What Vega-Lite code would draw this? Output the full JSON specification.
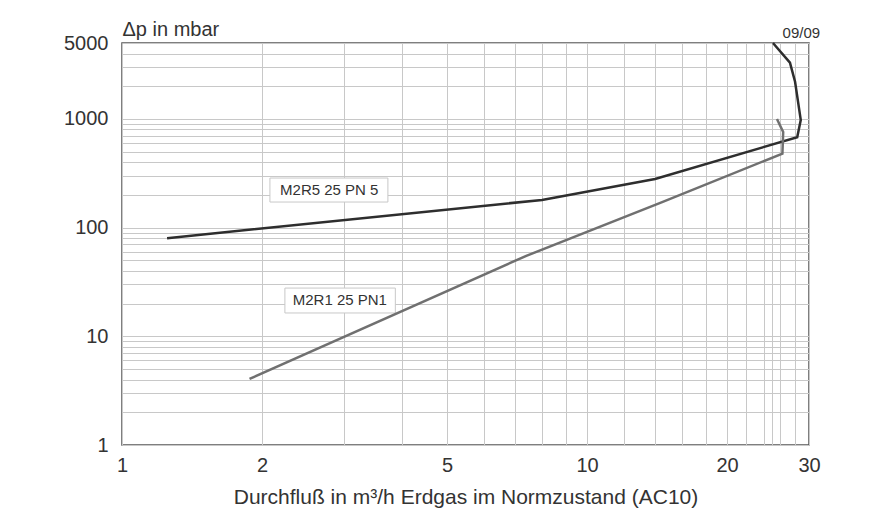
{
  "$schema": "https://vega.github.io/schema/vega-lite/v6.json",
  "autosize": {"type": "none"},
  "width": 687,
  "height": 402,
  "padding": {"left": 122, "top": 43, "right": 61, "bottom": 81},
  "background": "white",
  "config": {
    "font": "Liberation Sans",
    "view": {"stroke": "#555555", "strokeWidth": 1.5},
    "axis": {"domain": false, "ticks": false, "gridColor": "#c8c8c8", "gridWidth": 1, "labelColor": "#333333", "titleColor": "#333333", "labelFont": "Liberation Sans", "titleFont": "Liberation Sans", "titleFontWeight": "normal"}
  },
  "title": {"text": "09/09", "anchor": "end", "fontSize": 15, "fontWeight": "normal", "color": "#333333", "offset": 5, "dy": 27, "font": "Liberation Sans"},
  "datasets": {
    "curves": [
      {"series": "M2R5 25 PN 5", "i": 1, "q": 1.25, "dp": 80},
      {"series": "M2R5 25 PN 5", "i": 2, "q": 8.0, "dp": 180},
      {"series": "M2R5 25 PN 5", "i": 3, "q": 14.0, "dp": 280},
      {"series": "M2R5 25 PN 5", "i": 4, "q": 28.3, "dp": 680},
      {"series": "M2R5 25 PN 5", "i": 5, "q": 28.8, "dp": 980},
      {"series": "M2R5 25 PN 5", "i": 6, "q": 28.0, "dp": 2200},
      {"series": "M2R5 25 PN 5", "i": 7, "q": 27.3, "dp": 3300},
      {"series": "M2R5 25 PN 5", "i": 8, "q": 25.1, "dp": 5000},
      {"series": "M2R1 25 PN1", "i": 1, "q": 1.88, "dp": 4.05},
      {"series": "M2R1 25 PN1", "i": 2, "q": 7.4, "dp": 55},
      {"series": "M2R1 25 PN1", "i": 3, "q": 14.5, "dp": 172},
      {"series": "M2R1 25 PN1", "i": 4, "q": 26.3, "dp": 480},
      {"series": "M2R1 25 PN1", "i": 5, "q": 26.4, "dp": 760},
      {"series": "M2R1 25 PN1", "i": 6, "q": 25.6, "dp": 1000}
    ],
    "labels": [
      {"label": "M2R5 25 PN 5", "x1": 2.08, "x2": 3.73, "y1": 172, "y2": 286, "xc": 2.79, "yc": 222},
      {"label": "M2R1 25 PN1", "x1": 2.24, "x2": 3.87, "y1": 16.4, "y2": 27.8, "xc": 2.94, "yc": 21.4}
    ]
  },
  "layer": [
    {
      "data": {"name": "labels"},
      "mark": {"type": "rect", "fill": "white", "stroke": "#c8c8c8", "strokeWidth": 1},
      "encoding": {
        "x": {"field": "x1", "type": "quantitative", "scale": {"type": "log", "domain": [1, 30], "nice": false},
          "axis": {
            "values": [1, 2, 3, 4, 5, 6, 7, 8, 9, 10, 12, 14, 16, 18, 20, 22, 24, 25, 26, 28, 30],
            "labelExpr": "indexof([1,2,5,10,20,30], datum.value) >= 0 ? format(datum.value, 'd') : ''",
            "labelFontSize": 20, "labelPadding": 10, "labelFlush": false,
            "title": "Durchfluß in m³/h Erdgas im Normzustand (AC10)", "titleFontSize": 21, "titlePadding": 11
          }},
        "x2": {"field": "x2"},
        "y": {"field": "y1", "type": "quantitative", "scale": {"type": "log", "domain": [1, 5000], "nice": false},
          "axis": {
            "values": [1, 2, 3, 4, 5, 6, 7, 8, 9, 10, 20, 30, 40, 50, 60, 70, 80, 90, 100, 200, 300, 400, 500, 600, 700, 800, 900, 1000, 2000, 3000, 4000, 5000],
            "labelExpr": "indexof([1,10,100,1000,5000], datum.value) >= 0 ? format(datum.value, 'd') : ''",
            "labelFontSize": 20, "labelPadding": 14, "labelFlush": false,
            "title": "Δp in mbar", "titleFontSize": 20, "titleAngle": 0, "titleAlign": "left", "titleBaseline": "alphabetic", "titleX": 0, "titleY": -8
          }},
        "y2": {"field": "y2"}
      }
    },
    {
      "data": {"name": "labels"},
      "mark": {"type": "text", "fontSize": 15, "color": "#333333", "align": "center", "baseline": "middle"},
      "encoding": {
        "x": {"field": "xc", "type": "quantitative"},
        "y": {"field": "yc", "type": "quantitative"},
        "text": {"field": "label"}
      }
    },
    {
      "data": {"name": "curves"},
      "mark": {"type": "line", "strokeWidth": 2.5},
      "encoding": {
        "x": {"field": "q", "type": "quantitative"},
        "y": {"field": "dp", "type": "quantitative"},
        "detail": {"field": "series"},
        "order": {"field": "i", "type": "quantitative"},
        "color": {"field": "series", "type": "nominal", "scale": {"domain": ["M2R5 25 PN 5", "M2R1 25 PN1"], "range": ["#2e2e2e", "#707070"]}, "legend": null}
      }
    }
  ]
}
